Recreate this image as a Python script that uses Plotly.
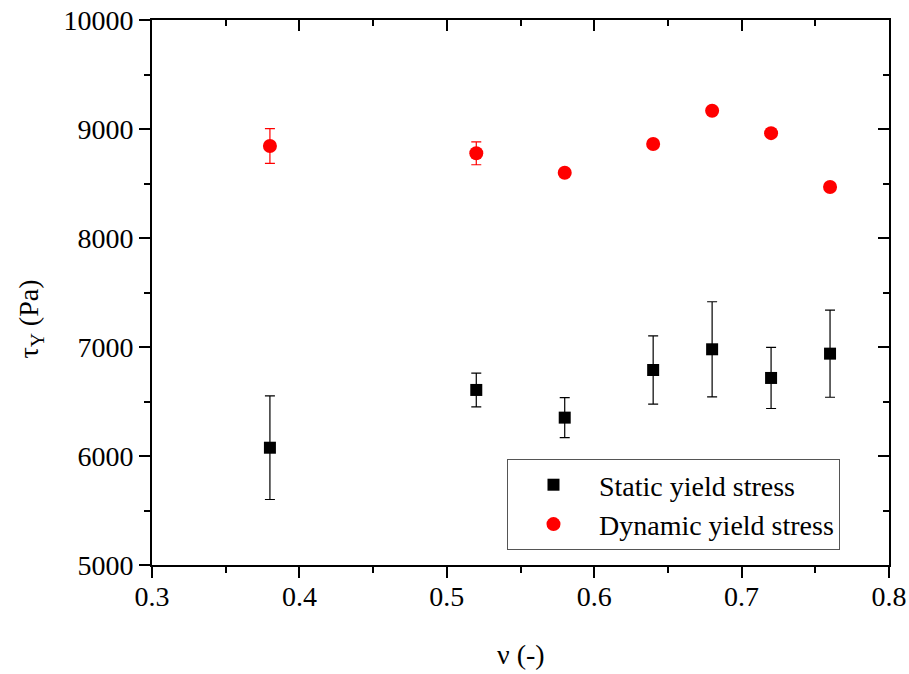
import plotly.graph_objects as go

nu = [0.38, 0.52, 0.58, 0.64, 0.68, 0.72, 0.76]
static_tau = [6076, 6606, 6352, 6789, 6979, 6716, 6939]
static_err = [475, 155, 183, 313, 436, 280, 400]
dynamic_tau = [8844, 8777, 8599, 8862, 9168, 8962, 8468]
dynamic_err = [160, 105, 30, 35, 25, 40, 40]

FONT = "Liberation Serif"

fig = go.Figure()
fig.add_trace(go.Scatter(
    x=nu, y=static_tau, mode="markers", name="Static yield stress",
    marker=dict(symbol="square", size=12, color="black"),
    error_y=dict(type="data", array=static_err, visible=True, color="black", thickness=1.2, width=5),
))
fig.add_trace(go.Scatter(
    x=nu, y=dynamic_tau, mode="markers", name="Dynamic yield stress",
    marker=dict(symbol="circle", size=14, color="#ff0000"),
    error_y=dict(type="data", array=dynamic_err, visible=True, color="#ff0000", thickness=1.2, width=5),
))
# invisible trace to hold mirror axes
fig.add_trace(go.Scatter(x=[0.5], y=[7500], xaxis="x2", yaxis="y2", mode="markers",
                         marker=dict(opacity=0), showlegend=False, hoverinfo="skip"))

axis_common = dict(showgrid=False, zeroline=False, showline=True, linecolor="black", linewidth=2,
                   tickcolor="black", tickwidth=2, ticklen=11, automargin=False)

fig.update_layout(
    width=909, height=674,
    margin=dict(l=152, r=20, t=20, b=109, autoexpand=False),
    paper_bgcolor="white", plot_bgcolor="white",
    font=dict(family=FONT, size=28, color="black"),
    xaxis=dict(range=[0.3, 0.8], dtick=0.1, tick0=0.3, ticks="outside", ticklabelstandoff=-6,
               tickfont=dict(family=FONT, size=28, color="black"),
               minor=dict(ticks="outside", ticklen=6, dtick=0.05, tickwidth=2, tickcolor="black"),
               **axis_common),
    yaxis=dict(range=[5000, 10000], dtick=1000, tick0=5000, ticks="outside", tickformat="d",
               tickfont=dict(family=FONT, size=28, color="black"),
               minor=dict(ticks="outside", ticklen=6, dtick=500, tickwidth=2, tickcolor="black"),
               **axis_common),
    xaxis2=dict(overlaying="x", anchor="y", side="top", range=[0.3, 0.8], dtick=0.1, tick0=0.3,
                ticks="inside", showticklabels=False,
                minor=dict(ticks="inside", ticklen=6, dtick=0.05, tickwidth=2, tickcolor="black"),
                **axis_common),
    yaxis2=dict(overlaying="y", anchor="x", side="right", range=[5000, 10000], dtick=1000, tick0=5000,
                ticks="inside", showticklabels=False,
                minor=dict(ticks="inside", ticklen=6, dtick=500, tickwidth=2, tickcolor="black"),
                **axis_common),
    legend=dict(x=0.9335, y=0.0275, xanchor="right", yanchor="bottom",
                bgcolor="white", bordercolor="#555555", borderwidth=1,
                font=dict(family=FONT, size=28, color="black"), itemwidth=81,
                tracegroupgap=0),
    showlegend=True,
    annotations=[
        dict(text="ν (-)", xref="paper", yref="paper", x=0.5, y=-0.165, xanchor="center", yanchor="middle",
             showarrow=False, font=dict(family=FONT, size=28, color="black")),
        dict(text="τ<sub>Y</sub> (Pa)", xref="paper", yref="paper", x=-0.165, y=0.451, xanchor="center",
             yanchor="middle", textangle=-90, showarrow=False, font=dict(family=FONT, size=28, color="black")),
    ],
)

fig.write_html("out.html")
